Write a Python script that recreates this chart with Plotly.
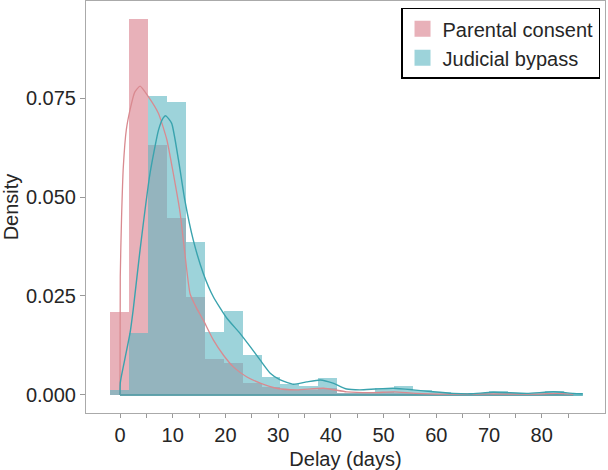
import plotly.graph_objects as go

# Histogram bins (left edges, days) and bin width
bin_left = [-1.88, 1.71, 5.30, 8.89, 12.48, 16.07, 19.66, 23.25, 26.84, 30.43,
            34.02, 37.61, 41.20, 44.79, 48.38, 51.97, 55.56, 59.15, 62.74, 66.33,
            69.92, 73.51, 77.10, 80.69]
bin_width = 3.59

parental_hist = [0.0209, 0.0949, 0.0631, 0.0446, 0.0248, 0.0091, 0.0080, 0.0030,
                 0.0020, 0.0012, 0.0012, 0.0018, 0.0005, 0.0005, 0.0008, 0.0005,
                 0.0003, 0.0003, 0.0002, 0.0002, 0.0003, 0.0002, 0.0002, 0.0005]
judicial_hist = [0.0012, 0.0156, 0.0756, 0.0739, 0.0387, 0.0160, 0.0213, 0.0101,
                 0.0046, 0.0028, 0.0022, 0.0042, 0.0005, 0.0006, 0.0017, 0.0023,
                 0.0012, 0.0008, 0.0004, 0.0004, 0.0011, 0.0004, 0.0004, 0.0011]

# KDE curves
parental_kde_x = [0.0, 0.05, 0.3, 0.63, 1.2, 1.9, 2.8, 3.8, 5.4, 7.3, 8.9, 10.1,
                  11.4, 12.3, 13.3, 14.5, 15.8, 17.7, 19.6, 21.5, 24.0, 26.6, 29.7,
                  33.5, 38.6, 43.0, 48.0, 52.0, 56.0, 62.0, 70.0, 78.0, 83.0, 86.0]
parental_kde_y = [0.0, 0.030, 0.045, 0.0576, 0.067, 0.072, 0.0765, 0.078, 0.0753,
                  0.0711, 0.0644, 0.056, 0.046, 0.0358, 0.0255, 0.0220, 0.0189, 0.0139,
                  0.0101, 0.0071, 0.0046, 0.0030, 0.0017, 0.0013, 0.0017, 0.0008,
                  0.0006, 0.0008, 0.0004, 0.0002, 0.0003, 0.0002, 0.0004, 0.0002]
judicial_kde_x = [0.0, 0.05, 0.3, 1.9, 2.5, 3.8, 5.7, 7.3, 8.2, 8.7, 9.8, 11.1, 12.3,
                  13.9, 15.8, 17.7, 20.2, 22.8, 24.7, 26.6, 28.5, 30.4, 32.9, 35.4,
                  38.0, 40.4, 43.0, 45.5, 48.4, 51.8, 55.6, 59.4, 63.2, 66.4, 70.8,
                  77.2, 82.2, 86.0, 87.8]
judicial_kde_y = [0.0, 0.003, 0.005, 0.0156, 0.0215, 0.0366, 0.056, 0.0669, 0.0700,
                  0.0705, 0.0686, 0.0593, 0.0492, 0.0391, 0.0307, 0.0248, 0.0195,
                  0.0155, 0.0122, 0.0088, 0.0055, 0.0038, 0.0027, 0.0033, 0.0038,
                  0.0030, 0.0015, 0.0013, 0.0015, 0.0017, 0.0013, 0.0008, 0.0004,
                  0.0003, 0.0007, 0.0004, 0.0008, 0.0004, 0.0003]

x_tick_vals = [0, 5, 10, 15, 20, 25, 30, 35, 40, 45, 50, 55, 60, 65, 70, 75, 80, 85]
x_tick_text = ["0", "", "10", "", "20", "", "30", "", "40", "", "50", "", "60", "",
               "70", "", "80", ""]
y_tick_vals = [0.0, 0.025, 0.05, 0.075]

FONT = "Liberation Sans, Arial, sans-serif"
TXT = "#262626"
PINK_FILL = "rgba(210,100,115,0.5)"
TEAL_FILL = "rgba(92,182,193,0.6)"
PINK_LINE = "#d98a90"
TEAL_LINE = "#3aa3ae"

fig = go.Figure()
fig.add_trace(go.Bar(x=bin_left, y=parental_hist, width=bin_width, offset=0,
                     showlegend=False,
                     marker=dict(color=PINK_FILL, line=dict(width=0))))
fig.add_trace(go.Bar(x=bin_left, y=judicial_hist, width=bin_width, offset=0,
                     showlegend=False,
                     marker=dict(color=TEAL_FILL, line=dict(width=0))))

# baselines of the KDE outlines
fig.add_trace(go.Scatter(x=[parental_kde_x[0], parental_kde_x[-1]], y=[0, 0], mode="lines",
                         showlegend=False, hoverinfo="skip",
                         line=dict(color=PINK_LINE, width=1.3)))
fig.add_trace(go.Scatter(x=[judicial_kde_x[0], judicial_kde_x[-1]], y=[0, 0], mode="lines",
                         showlegend=False, hoverinfo="skip",
                         line=dict(color=TEAL_LINE, width=1.4)))
fig.add_trace(go.Scatter(x=parental_kde_x, y=parental_kde_y, mode="lines", showlegend=False,
                         line=dict(color=PINK_LINE, width=1.3, shape="spline", smoothing=0.5),
                         hoverinfo="skip"))
fig.add_trace(go.Scatter(x=judicial_kde_x, y=judicial_kde_y, mode="lines", showlegend=False,
                         line=dict(color=TEAL_LINE, width=1.4, shape="spline", smoothing=0.5),
                         hoverinfo="skip"))

# legend entries
fig.add_trace(go.Scatter(x=[None], y=[None], mode="markers", name="Parental consent",
                         marker=dict(symbol="square", size=16, color=PINK_FILL,
                                     line=dict(width=0))))
fig.add_trace(go.Scatter(x=[None], y=[None], mode="markers", name="Judicial bypass",
                         marker=dict(symbol="square", size=16, color=TEAL_FILL,
                                     line=dict(width=0))))

fig.update_layout(
    width=608, height=470,
    margin=dict(l=86, r=3, t=1, b=57),
    paper_bgcolor="white", plot_bgcolor="white",
    barmode="overlay", bargap=0,
    font=dict(family=FONT, size=20, color=TXT),
    legend=dict(x=0.9904, y=0.9837, xanchor="right", yanchor="top",
                bgcolor="white", bordercolor="black", borderwidth=1.5,
                font=dict(family=FONT, size=20, color=TXT),
                tracegroupgap=0, itemsizing="trace"),
    showlegend=True,
)
fig.update_xaxes(range=[-6.45, 92.0], tickvals=x_tick_vals, ticktext=x_tick_text,
                 ticks="outside", ticklen=4, tickcolor="#999999", tickwidth=1,
                 showgrid=False, zeroline=False, automargin=False,
                 showline=True, linecolor="#aaaaaa", linewidth=1, mirror=True,
                 tickfont=dict(family=FONT, size=20, color=TXT),
                 title=dict(text="Delay (days)", font=dict(family=FONT, size=20, color=TXT),
                            standoff=12))
fig.update_yaxes(range=[-0.00455, 0.0995], tickvals=y_tick_vals, tickformat=".3f",
                 ticks="outside", ticklen=5, tickcolor="#999999", tickwidth=1,
                 showgrid=False, zeroline=False, automargin=False,
                 showline=True, linecolor="#aaaaaa", linewidth=1, mirror=True,
                 tickfont=dict(family=FONT, size=20, color=TXT),
                 title=dict(text="Density", font=dict(family=FONT, size=20, color=TXT),
                            standoff=5))

fig.write_html("out.html", config={"displayModeBar": False},
               post_script="document.body.style.margin='0';document.body.style.padding='0';")
